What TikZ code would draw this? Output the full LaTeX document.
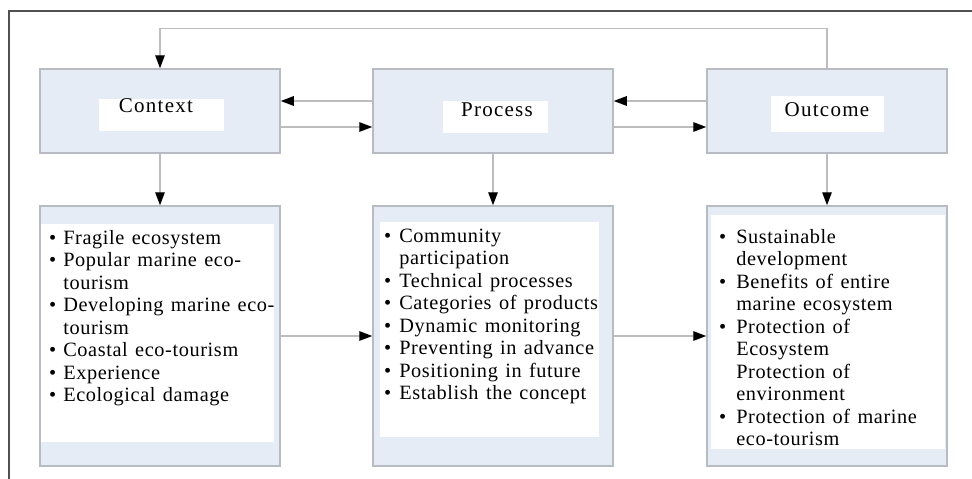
\documentclass[tikz,border=0pt]{standalone}
\usepackage{fontspec}
\setmainfont{Liberation Serif}[LetterSpace=3, WordSpace=1.3]
\newfontfamily\labelfont{Liberation Serif}[LetterSpace=6]
\usepackage{tikz}
\usetikzlibrary{arrows.meta}

\definecolor{boxfill}{HTML}{E5ECF6}
\definecolor{boxline}{HTML}{B8BCC2}
\definecolor{linkline}{HTML}{BDBDBD}
\definecolor{frameline}{HTML}{505050}

\tikzset{
  topbox/.style={draw=boxline, fill=boxfill, line width=1.5pt, inner sep=0pt,
    minimum width=240pt, minimum height=84pt},
  listbox/.style={draw=boxline, fill=boxfill, line width=1.5pt, inner sep=0pt,
    minimum width=240pt, minimum height=260pt},
  padbox/.style={fill=white, inner sep=0pt},
  titletext/.style={inner sep=0pt, anchor=base, font=\labelfont\fontsize{21}{24}\selectfont},
  listtext/.style={inner sep=0pt, anchor=base west, font=\fontsize{20.3}{22.5}\selectfont},
  link/.style={draw=linkline, line width=1.4pt, -{Triangle[length=13pt,width=9.5pt,color=black]}}
}

\begin{document}
\begin{tikzpicture}[x=1pt, y=-1pt]

  \useasboundingbox (0,0) rectangle (972,479);

  %% frame
  \draw[frameline, line width=1.3pt] (9,479) -- (9,11) -- (972,11);

  %% upper row
  \node[topbox] (context) at (160,111) {};
  \node[topbox] (process) at (493,111) {};
  \node[topbox] (outcome) at (827,111) {};

  \node[padbox, minimum width=125pt, minimum height=32pt] (contextlabel) at (161.5,115) {};
  \node[padbox, minimum width=105pt, minimum height=32pt] (processlabel) at (495.5,117) {};
  \node[padbox, minimum width=113pt, minimum height=36pt] (outcomelabel) at (827.5,114) {};

  \node[titletext] (contexttitle) at (156,112) {Context};
  \node[titletext] (processtitle) at (497,116) {Process};
  \node[titletext] (outcometitle) at (827,116) {Outcome};

  %% lower row
  \node[listbox] (contextlist) at (160,336) {};
  \node[listbox] (processlist) at (493,336) {};
  \node[listbox] (outcomelist) at (827,336) {};

  \node[padbox, minimum width=233pt, minimum height=218pt] (contextpad) at (157.5,333) {};
  \node[padbox, minimum width=219pt, minimum height=215pt] (processpad) at (489.5,329.5) {};
  \node[padbox, minimum width=234pt, minimum height=234pt] (outcomepad) at (828,332) {};

  \node[listtext] (contexttext) at (49,244) {%
    \begin{tabular}[t]{@{}l@{\hspace{7pt}}l@{}}
      \textbullet & Fragile ecosystem\\
      \textbullet & Popular marine eco-\\
                  & tourism\\
      \textbullet & Developing marine eco-\\
                  & tourism\\
      \textbullet & Coastal eco-tourism\\
      \textbullet & Experience\\
      \textbullet & Ecological damage
    \end{tabular}};

  \node[listtext] (processtext) at (384,242) {%
    \begin{tabular}[t]{@{}l@{\hspace{8pt}}l@{}}
      \textbullet & Community\\
                  & participation\\
      \textbullet & Technical processes\\
      \textbullet & Categories of products\\
      \textbullet & Dynamic monitoring\\
      \textbullet & Preventing in advance\\
      \textbullet & Positioning in future\\
      \textbullet & Establish the concept
    \end{tabular}};

  \node[listtext] (outcometext) at (719,243) {%
    \begin{tabular}[t]{@{}l@{\hspace{10pt}}l@{}}
      \textbullet & Sustainable\\
                  & development\\
      \textbullet & Benefits of entire\\
                  & marine ecosystem\\
      \textbullet & Protection of\\
                  & Ecosystem\\
                  & Protection of\\
                  & environment\\
      \textbullet & Protection of marine\\
                  & eco-tourism
    \end{tabular}};

  %% links between upper boxes
  \draw[link] ([yshift=10pt]process.west) -- ([yshift=10pt]context.east);
  \draw[link] ([yshift=-16pt]context.east) -- ([yshift=-16pt]process.west);
  \draw[link] ([yshift=10pt]outcome.west) -- ([yshift=10pt]process.east);
  \draw[link] ([yshift=-16pt]process.east) -- ([yshift=-16pt]outcome.west);

  %% feedback outcome -> context
  \draw[link] (outcome.north) -- ++(0,-40) -| (context.north);

  %% down links
  \draw[link] (context.south) -- (contextlist.north);
  \draw[link] (process.south) -- (processlist.north);
  \draw[link] (outcome.south) -- (outcomelist.north);

  %% links between lists
  \draw[link] (contextlist.east) -- (processlist.west);
  \draw[link] (processlist.east) -- (outcomelist.west);

\end{tikzpicture}
\end{document}
